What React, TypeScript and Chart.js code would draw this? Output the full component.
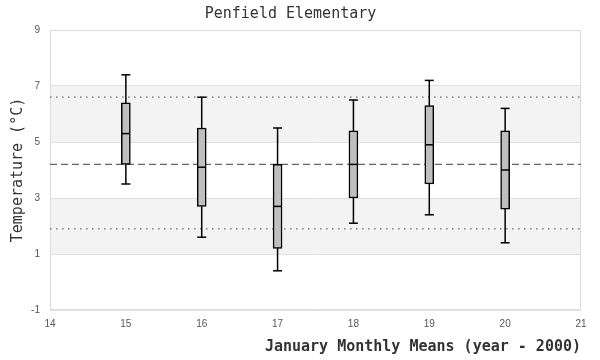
import React, { useEffect, useRef } from "react";
import { Chart, registerables } from "chart.js";

Chart.register(...registerables);

const years = [15, 16, 17, 18, 19, 20];
const mins = [3.5, 1.6, 0.4, 2.1, 2.4, 1.4];
const q1s = [4.2, 2.7, 1.2, 3.0, 3.5, 2.6];
const medians = [5.3, 4.1, 2.7, 4.2, 4.9, 4.0];
const q3s = [6.4, 5.5, 4.2, 5.4, 6.3, 5.4];
const maxs = [7.4, 6.6, 5.5, 6.5, 7.2, 6.2];

const meanValue = 4.2;
const lowerLimit = 1.9;
const upperLimit = 6.6;
const bands = [
  [1, 3],
  [5, 7],
];

const xRange = [14, 21];
const yRange = [-1, 9];

const titleText = "Penfield Elementary";
const xTitle = "January Monthly Means (year - 2000)";
const yTitle = "Temperature (°C)";

const bandPlugin = {
  id: "bands",
  beforeDraw(chart: any) {
    const { ctx, chartArea, scales } = chart;
    const y = scales.y;
    ctx.save();
    ctx.fillStyle = "#f3f3f3";
    bands.forEach(([a, b]) => {
      const top = y.getPixelForValue(b);
      const bot = y.getPixelForValue(a);
      ctx.fillRect(chartArea.left, top, chartArea.right - chartArea.left, bot - top);
    });
    ctx.restore();
  },
  beforeDatasetsDraw(chart: any) {
    const { ctx, chartArea } = chart;
    ctx.save();
    ctx.strokeStyle = "#dcdcdc";
    ctx.lineWidth = 1;
    ctx.strokeRect(
      Math.round(chartArea.left) + 0.5,
      Math.round(chartArea.top) + 0.5,
      Math.round(chartArea.right - chartArea.left) - 1,
      Math.round(chartArea.bottom - chartArea.top) - 1
    );
    ctx.restore();
  },
};

const hLine = (v: number) => [
  { x: xRange[0], y: v },
  { x: xRange[1], y: v },
];

export default function App() {
  const ref = useRef<HTMLCanvasElement | null>(null);

  useEffect(() => {
    if (!ref.current) return;
    const chart = new Chart(ref.current, {
      type: "bar",
      data: {
        datasets: [
          {
            type: "scatter",
            data: years.map((x, i) => ({ x, y: medians[i] })),
            pointStyle: "line",
            radius: 4,
            borderColor: "#000",
            borderWidth: 1.5,
            order: 1,
          } as any,
          {
            type: "scatter",
            data: [
              ...years.map((x, i) => ({ x, y: mins[i] })),
              ...years.map((x, i) => ({ x, y: maxs[i] })),
            ],
            pointStyle: "line",
            radius: 4.5,
            borderColor: "#000",
            borderWidth: 1.5,
            order: 1,
          } as any,
          {
            type: "bar",
            data: years.map((x, i) => ({ x, y: [q1s[i], q3s[i]] })),
            backgroundColor: "#bfbfbf",
            borderColor: "#000",
            borderWidth: 1.5,
            borderSkipped: false,
            barThickness: 9,
            grouped: false,
            order: 2,
          } as any,
          {
            type: "line",
            data: years.flatMap((x, i) => [
              { x, y: mins[i] },
              { x, y: maxs[i] },
              { x, y: null },
            ]),
            borderColor: "#000",
            borderWidth: 1.5,
            pointRadius: 0,
            spanGaps: false,
            order: 3,
          } as any,
          {
            type: "line",
            data: hLine(meanValue),
            borderColor: "#666",
            borderWidth: 1.2,
            borderDash: [7, 4],
            pointRadius: 0,
            order: 4,
          } as any,
          {
            type: "line",
            data: hLine(upperLimit),
            borderColor: "#666",
            borderWidth: 1.2,
            borderDash: [1.5, 4.5],
            pointRadius: 0,
            order: 4,
          } as any,
          {
            type: "line",
            data: hLine(lowerLimit),
            borderColor: "#666",
            borderWidth: 1.2,
            borderDash: [1.5, 4.5],
            pointRadius: 0,
            order: 4,
          } as any,
        ],
      },
      options: {
        responsive: false,
        animation: false,
        devicePixelRatio: 1,
        layout: { padding: { top: 0, right: 19, bottom: 0, left: 0 } },
        plugins: {
          legend: { display: false },
          tooltip: { enabled: false },
          title: {
            display: true,
            text: titleText,
            color: "#333",
            font: { family: "'DejaVu Sans Mono', monospace", size: 15, weight: "normal" },
            padding: { top: 5, bottom: 7 },
          },
        },
        scales: {
          x: {
            type: "linear",
            min: xRange[0],
            max: xRange[1],
            offset: false,
            grid: { display: false, drawTicks: false },
            border: { display: false },
            ticks: {
              stepSize: 1,
              padding: 8,
              color: "#555",
              font: { family: "'Liberation Sans', sans-serif", size: 10 },
            },
            title: {
              display: true,
              text: xTitle,
              align: "end",
              color: "#333",
              font: { family: "'DejaVu Sans Mono', monospace", size: 15, weight: "bold" },
              padding: { top: 0, bottom: 4 },
            },
            afterFit: (s: any) => {
              s.height = 50;
            },
          },
          y: {
            type: "linear",
            min: yRange[0],
            max: yRange[1],
            grid: { color: "#e0e0e0", drawTicks: false },
            border: { display: false },
            ticks: {
              stepSize: 2,
              padding: 10,
              color: "#555",
              font: { family: "'Liberation Sans', sans-serif", size: 10 },
            },
            title: {
              display: true,
              text: yTitle,
              color: "#333",
              font: { family: "'DejaVu Sans Mono', monospace", size: 15, weight: "normal" },
              padding: { top: 9, bottom: 0 },
            },
            afterFit: (s: any) => {
              s.width = 50;
            },
          },
        },
      } as any,
      plugins: [bandPlugin],
    });
    return () => chart.destroy();
  }, []);

  return (
    <div style={{ position: "absolute", left: 0, top: 0, width: 600, height: 360 }}>
      <canvas ref={ref} width={600} height={360} />
    </div>
  );
}
